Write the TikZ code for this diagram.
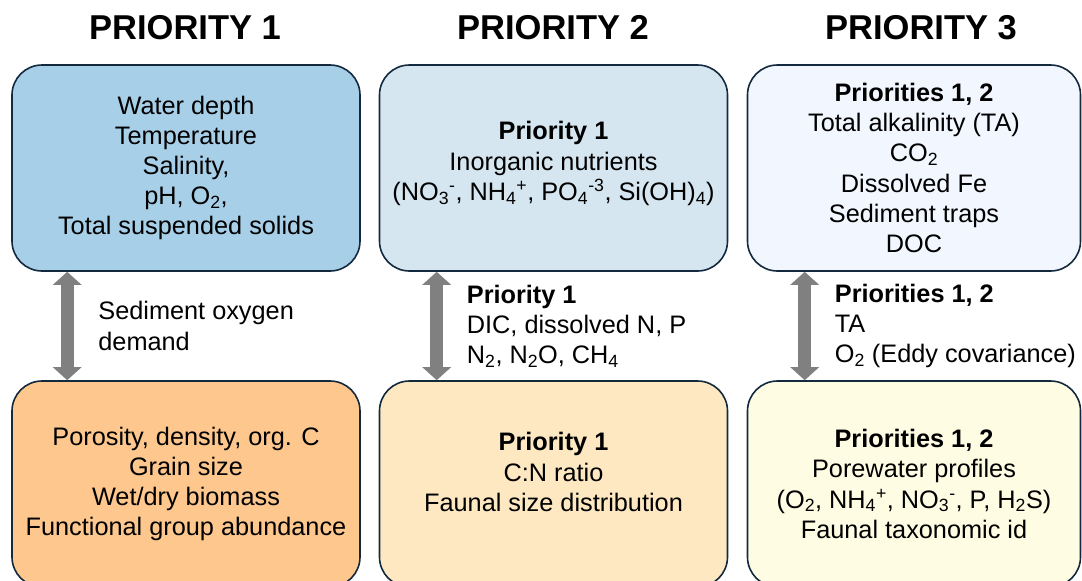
\documentclass[tikz,border=0pt]{standalone}
\usepackage{fontspec}
\setmainfont{Liberation Sans}
\usetikzlibrary{arrows.meta,positioning}

\definecolor{boxline}{HTML}{13293D}
\definecolor{topA}{HTML}{A8CFE8}
\definecolor{topB}{HTML}{D6E6F0}
\definecolor{topC}{HTML}{F2F6FE}
\definecolor{lowA}{HTML}{FDC78E}
\definecolor{lowB}{HTML}{FDE8C2}
\definecolor{lowC}{HTML}{FEFDE4}
\definecolor{fatgray}{HTML}{808080}

\begin{document}
\begin{tikzpicture}[x=1pt,y=-1pt,
    box/.style={draw=boxline, line width=1.6pt, rounded corners=30pt,
      minimum width=348pt, align=center, font=\fontsize{25.3}{30.2}\selectfont},
    head/.style={font=\fontsize{34.5}{40}\selectfont\bfseries},
    note/.style={anchor=west, inner sep=0pt, align=left, font=\fontsize{25.3}{30.2}\selectfont},
    fat/.style={draw=fatgray, line width=13pt,
      {Triangle[width=28pt,length=13pt]}-{Triangle[width=28pt,length=13pt]}}]
    \clip (0,0) rectangle (1082,581);

    % column titles
    \node[head] (h1) at (185,28) {PRIORITY 1};
    \node[head] (h2) at (553,28) {PRIORITY 2};
    \node[head] (h3) at (921,28) {PRIORITY 3};

    % water column boxes
    \node[box, fill=topA, minimum height=206pt] (t1) at (186,168)
      {Water depth\\Temperature\\Salinity,\\pH, O\textsubscript{2},\\Total suspended solids};
    \node[box, fill=topB, minimum height=206pt] (t2) at (553.5,168)
      {\textbf{Priority 1}\\Inorganic nutrients\\(NO\textsubscript{3}\textsuperscript{-}, NH\textsubscript{4}\textsuperscript{+}, PO\textsubscript{4}\textsuperscript{-3}, Si(OH)\textsubscript{4})\\[-16pt]};
    \node[box, fill=topC, minimum height=206pt, minimum width=333pt] (t3) at (914,168)
      {\textbf{Priorities 1, 2}\\Total alkalinity (TA)\\CO\textsubscript{2}\\Dissolved Fe\\Sediment traps\\DOC};

    % sediment boxes
    \node[box, fill=lowA, minimum height=206pt] (b1) at (186,484)
      {Porosity, density, org. C\\Grain size\\Wet/dry biomass\\Functional group abundance};
    \node[box, fill=lowB, minimum height=206pt] (b2) at (553.5,484)
      {\textbf{Priority 1}\\C:N ratio\\Faunal size distribution\\[-6pt]};
    \node[box, fill=lowC, minimum height=206pt, minimum width=333pt] (b3) at (914,484)
      {\textbf{Priorities 1, 2}\\Porewater profiles\\(O\textsubscript{2}, NH\textsubscript{4}\textsuperscript{+}, NO\textsubscript{3}\textsuperscript{-}, P, H\textsubscript{2}S)\\Faunal taxonomic id};

    % exchange arrows
    \draw[fat] ([xshift=56pt]t1.south west) -- ([xshift=56pt]b1.north west) coordinate[midway] (m1);
    \draw[fat] ([xshift=58pt]t2.south west) -- ([xshift=58pt]b2.north west) coordinate[midway] (m2);
    \draw[fat] ([xshift=58pt]t3.south west) -- ([xshift=58pt]b3.north west) coordinate[midway] (m3);

    \node[note, right=31pt of m1] (n1) {Sediment oxygen\\demand};
    \node[note, right=30pt of m2] (n2) {\textbf{Priority 1}\\DIC, dissolved N, P\\N\textsubscript{2}, N\textsubscript{2}O, CH\textsubscript{4}};
    \node[note, right=30pt of m3] (n3) {\textbf{Priorities 1, 2}\\TA\\O\textsubscript{2} (Eddy covariance)};
\end{tikzpicture}
\end{document}
